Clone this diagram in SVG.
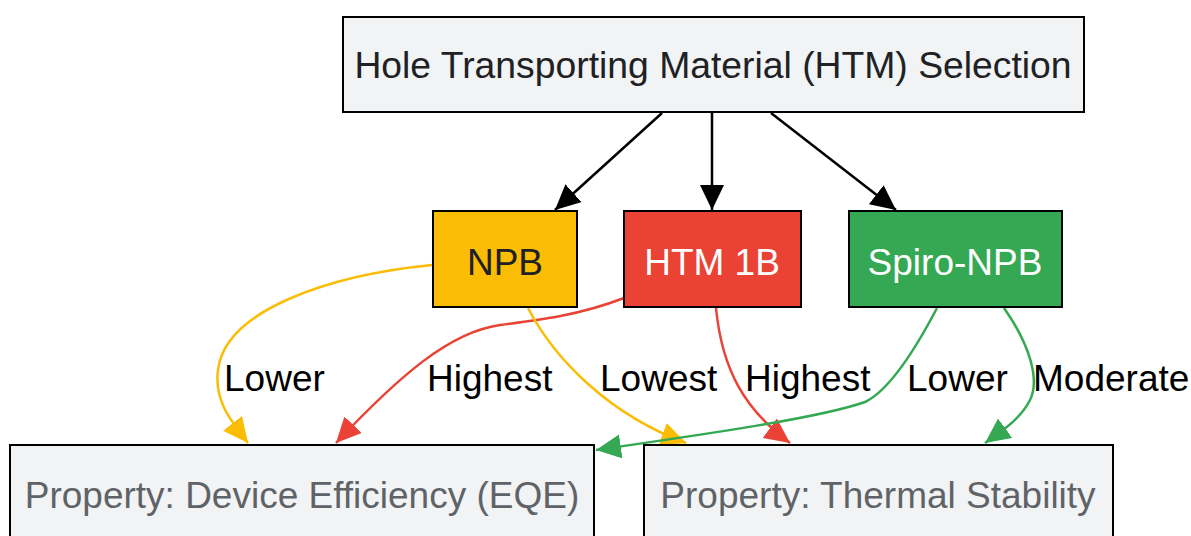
<svg xmlns="http://www.w3.org/2000/svg" width="1191" height="536" viewBox="0 0 1191 536">
<style>
.box{stroke:#000;stroke-width:2}
.t{font-family:"Liberation Sans",Arial,sans-serif;font-size:37px;text-anchor:middle}
.lbl{font-family:"Liberation Sans",Arial,sans-serif;font-size:37px;fill:#000}
.e{fill:none;stroke-width:2.5}
</style>
<defs>
<marker id="ak" markerUnits="userSpaceOnUse" markerWidth="28" markerHeight="26" refX="25" refY="12" orient="auto"><path d="M0,0 L25,12 L0,24 Z" fill="#000"/></marker>
<marker id="ay" markerUnits="userSpaceOnUse" markerWidth="28" markerHeight="26" refX="25" refY="12" orient="auto"><path d="M0,0 L25,12 L0,24 Z" fill="#fbbc04"/></marker>
<marker id="ar" markerUnits="userSpaceOnUse" markerWidth="28" markerHeight="26" refX="25" refY="12" orient="auto"><path d="M0,0 L25,12 L0,24 Z" fill="#ea4335"/></marker>
<marker id="ag" markerUnits="userSpaceOnUse" markerWidth="28" markerHeight="26" refX="25" refY="12" orient="auto"><path d="M0,0 L25,12 L0,24 Z" fill="#34a853"/></marker>
</defs>
<g id="connectors">
<path d="M662,113 L555,210" stroke="#000" stroke-width="2.5" fill="none" marker-end="url(#ak)"/>
<path d="M712,113 L712,210" stroke="#000" stroke-width="2.5" fill="none" marker-end="url(#ak)"/>
<path d="M771,113 L896,210" stroke="#000" stroke-width="2.5" fill="none" marker-end="url(#ak)"/>
<path class="e" stroke="#fbbc04" d="M432,265 C 330,275 225,310 218,370 C 214,400 230,420 248,443" marker-end="url(#ay)"/>
<path class="e" stroke="#ea4335" d="M624,298 C 580,315 540,320 500,325 C 450,332 400,375 336,443" marker-end="url(#ar)"/>
<path class="e" stroke="#fbbc04" d="M528,308 C 555,360 610,415 686,443" marker-end="url(#ay)"/>
<path class="e" stroke="#ea4335" d="M716,308 C 722,370 745,410 790,443" marker-end="url(#ar)"/>
<path class="e" stroke="#34a853" d="M937,308 C 915,350 890,390 865,402 C 820,418 700,435 596,450" marker-end="url(#ag)"/>
<path class="e" stroke="#34a853" d="M1004,308 C 1030,345 1040,380 1030,400 C 1020,420 1000,432 985,443" marker-end="url(#ag)"/>
<text class="lbl" x="224" y="391">Lower</text>
<text class="lbl" x="427" y="391">Highest</text>
<text class="lbl" x="600" y="391">Lowest</text>
<text class="lbl" x="745" y="391">Highest</text>
<text class="lbl" x="907" y="391">Lower</text>
<text class="lbl" x="1033" y="391">Moderate</text>
</g>
<g id="htm">
<rect class="box" x="343" y="17" width="741" height="95" fill="#f1f3f4"/>
<text class="t" x="713" y="78" fill="#202124" style="font-size:37.3px">Hole Transporting Material (HTM) Selection</text>
</g>
<g id="npb">
<rect class="box" x="433" y="211" width="144" height="96" fill="#fbbc04"/>
<text class="t" x="505" y="275" fill="#202124">NPB</text>
</g>
<g id="htm1b">
<rect class="box" x="624" y="211" width="177" height="96" fill="#ea4335"/>
<text class="t" x="712" y="275" fill="#fff">HTM 1B</text>
</g>
<g id="spiro">
<rect class="box" x="849" y="211" width="213" height="96" fill="#34a853"/>
<text class="t" x="955" y="275" fill="#fff">Spiro-NPB</text>
</g>
<g id="eqe">
<rect class="box" x="10" y="445" width="584" height="100" fill="#f1f3f4"/>
<text class="t" x="302" y="508" fill="#5f6368">Property: Device Efficiency (EQE)</text>
</g>
<g id="thermal">
<rect class="box" x="644" y="445" width="469" height="100" fill="#f1f3f4"/>
<text class="t" x="878" y="508" fill="#5f6368">Property: Thermal Stability</text>
</g>
</svg>
